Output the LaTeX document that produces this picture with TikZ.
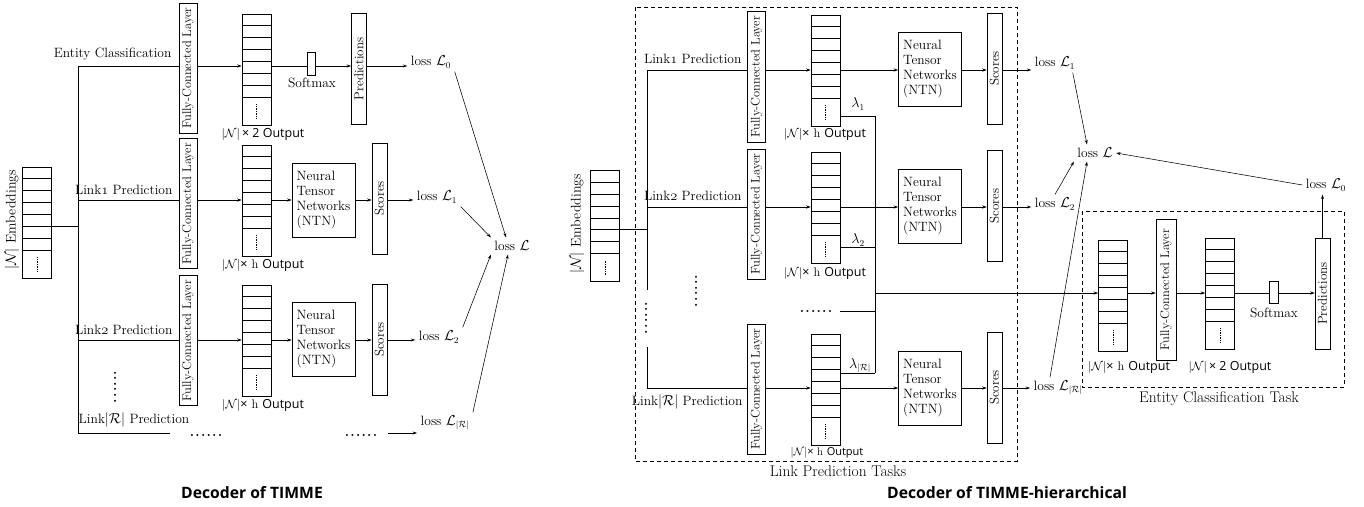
\documentclass[tikz,border=0pt]{standalone}
\usepackage{amsmath,amssymb}
\usepackage{graphicx}
\usepackage{fontspec}
\setsansfont{Open Sans}
\usetikzlibrary{arrows.meta}

% old-style figures (Link1, Link2)
\newcommand{\osn}[1]{{\usefont{OML}{cmm}{m}{it}#1}}
\newcommand{\vtext}[1]{\rotatebox{90}{#1}}
\newcommand{\sixdots}{{\fontsize{14}{14}\selectfont\bfseries .\kern1.2pt.\kern1.2pt.\kern1.2pt.\kern1.2pt.\kern1.2pt.}}
% stacked vector: name, x, y (centre)
\newcommand{\vecstack}[3]{%
  \node[draw, minimum width=29pt, minimum height=111pt, inner sep=0pt] (#1) at (#2,#3) {};
  \foreach \k in {1,...,7}
    \draw ([yshift=-\k*11.9pt]#1.north west) -- ([yshift=-\k*11.9pt]#1.north east);
  \draw[line width=0.5pt, dash pattern=on 0.5pt off 1.2pt] ([yshift=7pt]#1.south) -- ([yshift=21pt]#1.south);
}
\newcommand{\outN}{$|\mathcal{N}|$}

\tikzset{
  fcbox/.style={draw, minimum width=18pt, minimum height=130pt, inner sep=0pt,
    font=\fontsize{12.5}{15}\selectfont},
  scorebox/.style={draw, minimum width=15pt, minimum height=111pt, inner sep=0pt,
    font=\fontsize{13}{15}\selectfont},
  ntnbox/.style={draw, align=left, minimum width=63pt, minimum height=74pt, inner sep=3pt},
  smbox/.style={draw, minimum width=8pt, minimum height=23pt, inner sep=0pt},
  outlbl/.style={font=\fontsize{12.5}{14}\selectfont},
  arr/.style={-{Stealth[length=4.5pt,width=3pt]}},
  taskbox/.style={draw, dash pattern=on 4pt off 3pt},
  tasklbl/.style={font=\fontsize{15.5}{18}\selectfont},
  ttl/.style={font=\fontsize{15.7}{18}\selectfont\sffamily\bfseries}
}

\begin{document}
\begin{tikzpicture}[x=1pt,y=-1pt, line width=0.55pt,
  every node/.style={font=\fontsize{13.5}{15}\selectfont}]
\useasboundingbox (0,0) rectangle (1364,506);

% ================= Decoder of TIMME =================
\vecstack{emb}{37}{222.5}
\node[rotate=90, font=\fontsize{14}{16}\selectfont] (embtxt) at (12,220) {$|\mathcal{N}|$ Embeddings};

\coordinate (t0) at (78,66);
\coordinate (tE) at (78,226);
\coordinate (t1) at (78,200);
\coordinate (t2) at (78,340);
\coordinate (tR) at (78,433);
\coordinate (tRend) at (170,433);

\draw (tE -| emb.east) -- (tE);
\draw (t0) -- (tR) -- (tRend);

% entity classification
\node[fcbox] (fc0) at (188,68) {\vtext{Fully-Connected Layer}};
\vecstack{vec0}{256.5}{69.5}
\node[smbox] (sm0) at (311,64) {};
\node[scorebox] (pred0) at (359,69) {\vtext{Predictions}};
\node (loss0) at (431,62) {loss $\mathcal{L}_{0}$};
\node[anchor=south east] (txt0) at (175,64) {Entity Classification};
\node (smtxt0) at (312,83) {Softmax};
\node[outlbl] (out0) at (263,134) {\outN\,\textsf{× 2 Output}};

\draw (t0) -- (t0 -| fc0.west);
\draw[arr] (t0 -| fc0.east) -- (t0 -| vec0.west);
\draw (t0 -| vec0.east) -- (t0 -| sm0.west);
\draw[arr] (t0 -| sm0.east) -- (t0 -| pred0.west);
\draw[arr] (t0 -| pred0.east) -- (t0 -| loss0.west);

% link 1
\node[fcbox] (fc1) at (188,203.5) {\vtext{Fully-Connected Layer}};
\vecstack{vec1}{256.5}{200.5}
\node[ntnbox] (ntn1) at (323.5,200) {Neural\\Tensor\\Networks\\(NTN)};
\node[scorebox] (sc1) at (379.5,198.5) {\vtext{Scores}};
\node (loss1) at (437,197) {loss $\mathcal{L}_{1}$};
\node[anchor=south east] (txt1) at (176,198) {Link\osn{1} Prediction};
\node[outlbl] (out1) at (263,265) {\outN\textsf{×} h\ \textsf{Output}};

\draw (t1) -- (t1 -| fc1.west);
\draw[arr] (t1 -| fc1.east) -- (t1 -| vec1.west);
\draw[arr] (t1 -| vec1.east) -- (t1 -| ntn1.west);
\draw[arr] (t1 -| ntn1.east) -- (t1 -| sc1.west);
\draw[arr] (t1 -| sc1.east) -- (t1 -| loss1.west);

% link 2
\node[fcbox] (fc2) at (188,340.5) {\vtext{Fully-Connected Layer}};
\vecstack{vec2}{256.5}{340.5}
\node[ntnbox] (ntn2) at (323.5,339.5) {Neural\\Tensor\\Networks\\(NTN)};
\node[scorebox] (sc2) at (379.5,339.5) {\vtext{Scores}};
\node (loss2) at (439,337) {loss $\mathcal{L}_{2}$};
\node[anchor=south east] (txt2) at (176,338) {Link\osn{2} Prediction};
\node[outlbl] (out2) at (263,405) {\outN\textsf{×} h\ \textsf{Output}};

\draw (t2) -- (t2 -| fc2.west);
\draw[arr] (t2 -| fc2.east) -- (t2 -| vec2.west);
\draw[arr] (t2 -| vec2.east) -- (t2 -| ntn2.west);
\draw[arr] (t2 -| ntn2.east) -- (t2 -| sc2.west);
\draw[arr] (t2 -| sc2.east) -- (t2 -| loss2.west);

% link |R|
\node[rotate=90] (vd0) at (115,387) {\sixdots};
\node (txtR) at (134,420) {Link$|\mathcal{R}|$ Prediction};
\node (dR1) at (206,435) {\sixdots};
\node (dR2) at (361,435) {\sixdots};
\coordinate (aR) at (388,433);
\node (lossR) at (445,423) {loss $\mathcal{L}_{|\mathcal{R}|}$};
\draw[arr] (aR) -- (aR -| lossR.west);

% total loss
\node (lossL) at (512,246) {loss $\mathcal{L}$};
\draw[arr] (loss0.south east) -- ([xshift=-6pt]lossL.north);
\draw[arr] (loss1.south east) -- (lossL.north west);
\draw[arr] (loss2.north east) -- (lossL.south west);
\draw[arr] (lossR.north east) -- ([xshift=-4pt]lossL.south);

\node[ttl] (title0) at (252,493) {Decoder of TIMME};

% ================= Decoder of TIMME-hierarchical =================
\draw[taskbox] (635,7) rectangle (1017,461);
\node[tasklbl] (lptxt) at (838,471) {Link Prediction Tasks};

\vecstack{remb}{605}{226}
\node[rotate=90, font=\fontsize{14}{16}\selectfont] (rembtxt) at (577,224) {$|\mathcal{N}|$ Embeddings};

\coordinate (r1) at (647,70);
\coordinate (r2) at (647,207);
\coordinate (rE) at (647,229);
\coordinate (rA) at (647,290);
\coordinate (rB) at (647,347);
\coordinate (rR) at (647,388);

\draw (rE -| remb.east) -- (rE);
\draw (r1) -- (rA);
\draw (rB) -- (rR);
\node[rotate=90] (vd1) at (646,318) {\sixdots};
\node[rotate=90] (vd2) at (696,291) {\sixdots};

% link 1
\node[fcbox, minimum height=131pt] (rfc1) at (756.5,76.5) {\vtext{Fully-Connected Layer}};
\vecstack{rvec1}{825.5}{70.5}
\node[ntnbox] (rntn1) at (930,69.5) {Neural\\Tensor\\Networks\\(NTN)};
\node[scorebox] (rsc1) at (994.5,68.5) {\vtext{Scores}};
\node (rloss1) at (1055,63) {loss $\mathcal{L}_{1}$};
\node[anchor=south east] (rtxt1) at (745,67) {Link\osn{1} Prediction};
\node[outlbl] (rout1) at (825,134) {\outN\textsf{×} h\ \textsf{Output}};

\draw (r1) -- (r1 -| rfc1.west);
\draw[arr] (r1 -| rfc1.east) -- (r1 -| rvec1.west);
\draw[arr] (r1 -| rvec1.east) -- (r1 -| rntn1.west);
\draw[arr] (r1 -| rntn1.east) -- (r1 -| rsc1.west);
\draw[arr] (r1 -| rsc1.east) -- (r1 -| rloss1.west);

% link 2
\node[fcbox] (rfc2) at (756.5,214) {\vtext{Fully-Connected Layer}};
\vecstack{rvec2}{825.5}{207.5}
\node[ntnbox] (rntn2) at (930,206) {Neural\\Tensor\\Networks\\(NTN)};
\node[scorebox] (rsc2) at (994.5,206) {\vtext{Scores}};
\node (rloss2) at (1055,204) {loss $\mathcal{L}_{2}$};
\node[anchor=south east] (rtxt2) at (745,204) {Link\osn{2} Prediction};
\node[outlbl] (rout2) at (825,273) {\outN\textsf{×} h\ \textsf{Output}};

\draw (r2) -- (r2 -| rfc2.west);
\draw[arr] (r2 -| rfc2.east) -- (r2 -| rvec2.west);
\draw[arr] (r2 -| rvec2.east) -- (r2 -| rntn2.west);
\draw[arr] (r2 -| rntn2.east) -- (r2 -| rsc2.west);
\draw[arr] (r2 -| rsc2.east) -- (r2 -| rloss2.west);

% link |R|
\node[fcbox] (rfcR) at (756.5,389) {\vtext{Fully-Connected Layer}};
\vecstack{rvecR}{825.5}{389.5}
\node[ntnbox] (rntnR) at (930,388.5) {Neural\\Tensor\\Networks\\(NTN)};
\node[scorebox] (rscR) at (994.5,387.5) {\vtext{Scores}};
\node (rlossR) at (1058,388) {loss $\mathcal{L}_{|\mathcal{R}|}$};
\node[anchor=north east] (rtxtR) at (746,391) {Link$|\mathcal{R}|$ Prediction};
\node[outlbl, font=\fontsize{11}{12}\selectfont] (routR) at (827,453) {\outN\textsf{×} h\ \textsf{Output}};

\draw (rR) -- (rR -| rfcR.west);
\draw[arr] (rR -| rfcR.east) -- (rR -| rvecR.west);
\draw[arr] (rR -| rvecR.east) -- (rR -| rntnR.west);
\draw[arr] (rR -| rntnR.east) -- (rR -| rscR.west);
\draw[arr] (rR -| rscR.east) -- (rR -| rlossR.west);

% weights lambda
\coordinate (l1) at (875,116);
\coordinate (l2) at (875,247);
\coordinate (lB) at (875,293);
\coordinate (lD) at (875,311);
\coordinate (lR) at (875,373);
\draw (l1) -- (lR);
\draw (l1 -| rvec1.east) -- (l1);
\draw (l2 -| rvec2.east) -- (l2);
\draw (lR -| rvecR.east) -- (lR);
\draw (lD -| rvec1.east) -- (lD);
\node (rdots) at (816,311) {\sixdots};
\node (lam1) at (858,104) {$\lambda_{1}$};
\node (lam2) at (858,240) {$\lambda_{2}$};
\node (lamR) at (860,366) {$\lambda_{|\mathcal{R}|}$};

% entity classification task
\draw[taskbox] (1082,211) rectangle (1344,387);
\node[tasklbl] (ectxt) at (1219,399) {Entity Classification Task};
\vecstack{ev1}{1113}{295.5}
\node[fcbox, minimum width=20pt, minimum height=141pt] (efc) at (1166,289.5) {\vtext{Fully-Connected Layer}};
\vecstack{ev2}{1220}{293.5}
\node[smbox, minimum width=9pt, minimum height=22pt] (esm) at (1273.5,292) {};
\node[scorebox] (epred) at (1322.5,293.5) {\vtext{Predictions}};
\node (esmtxt) at (1274,313) {Softmax};
\node[outlbl] (eout1) at (1129,367) {\outN\textsf{×} h\ \textsf{Output}};
\node[outlbl] (eout2) at (1230,367) {\outN\,\textsf{× 2 Output}};
\node (rloss0) at (1326,185) {loss $\mathcal{L}_{0}$};

\draw[arr] (lB) -- (lB -| ev1.west);
\draw[arr] (lB -| ev1.east) -- (lB -| efc.west);
\draw[arr] (lB -| efc.east) -- (lB -| ev2.west);
\draw (lB -| ev2.east) -- (lB -| esm.west);
\draw[arr] (lB -| esm.east) -- (lB -| epred.west);
\draw[arr] (epred.north) -- (epred.north |- rloss0.south);

% total loss
\node (rlossL) at (1095,153) {loss $\mathcal{L}$};
\draw[arr] ([xshift=-6pt]rloss1.south east) -- ([xshift=-8pt]rlossL.north);
\draw[arr] (rloss2.north) -- (rlossL.south west);
\draw[arr] ([xshift=-8pt]rlossR.north) -- ([xshift=-8pt]rlossL.south);
\draw[arr] (rloss0.west) -- (rlossL.east);

\node[ttl] (title1) at (1007,493) {Decoder of TIMME-hierarchical};
\end{tikzpicture}
\end{document}
